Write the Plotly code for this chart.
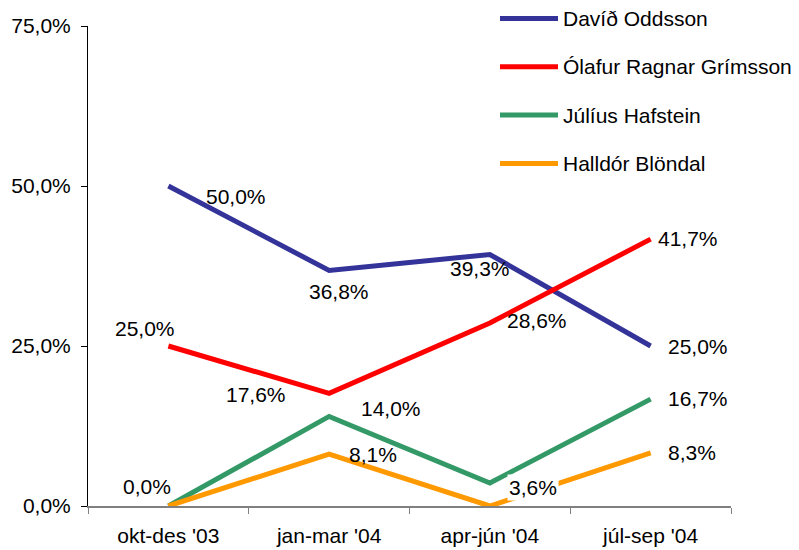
import plotly.graph_objects as go

# data
periods = ["okt-des '03", "jan-mar '04", "apr-jún '04", "júl-sep '04"]
names = ['Davíð Oddsson', 'Ólafur Ragnar Grímsson', 'Júlíus Hafstein', 'Halldór Blöndal']
david = [50.0, 36.8, 39.3, 25.0]
olafur = [25.0, 17.6, 28.6, 41.7]
julius = [0.0, 14.0, 3.6, 16.7]
halldor = [0.0, 8.1, 0.0, 8.3]
y_ticks = [0, 25, 50, 75]

colors = ['#333399', '#FF0000', '#339966', '#FF9900']
series = [david, olafur, julius, halldor]

# label offsets in px (dx, dy up); None = label hidden like in the original
label_offsets = [
    [(68, -10), (10, -21), (-10, -14), (47, 0)],
    [(-23, 18), (-73, -1), (47, 2), (37, 1)],
    [(-21, 20), (62, 8), (43, -5), (47, 1)],
    [None, (44, 0), None, (41, 0)],
]

FONT = 'Liberation Sans, Arial, sans-serif'
FS = 21
# page body has an 8px margin, so the figure is a bit smaller than the window
W, H = 791, 542
L, R, T, B = 80, 68, 18, 44
OFF = 8

fig = go.Figure()
for name, vals, col in zip(names, series, colors):
    fig.add_trace(go.Scatter(
        x=periods, y=vals, mode='lines', name=name,
        line=dict(color=col, width=5), showlegend=False
    ))

annotations = []
for vals, offs in zip(series, label_offsets):
    for xc, v, off in zip(periods, vals, offs):
        if off is None:
            continue
        annotations.append(dict(
            x=xc, y=v, xref='x', yref='y', text=f'{v:.1f}%'.replace('.', ','),
            showarrow=False, xshift=off[0], yshift=off[1],
            font=dict(size=FS, color='#000000'),
            bgcolor='#FFFFFF' if (v == 3.6) else 'rgba(0,0,0,0)',
        ))


# custom legend (long line swatches like Excel), positions in window px
def px_x(p):
    return (p - OFF - L) / (W - L - R)


def px_y(p):
    return (H - B - (p - OFF)) / (H - T - B)


shapes = []
for i, (name, col) in enumerate(zip(names, colors)):
    yy = 18.5 + i * 48.3
    shapes.append(dict(type='line', xref='paper', yref='paper',
                       x0=px_x(500), x1=px_x(558), y0=px_y(yy), y1=px_y(yy),
                       line=dict(color=col, width=5)))
    annotations.append(dict(x=px_x(561), y=px_y(yy), xref='paper', yref='paper',
                            text=name, showarrow=False, xanchor='left', yanchor='middle',
                            font=dict(size=FS, color='#000000')))

fig.update_layout(
    width=W, height=H,
    margin=dict(l=L, r=R, t=T, b=B),
    plot_bgcolor='#FFFFFF',
    paper_bgcolor='#FFFFFF',
    font=dict(family=FONT, size=FS, color='#000000'),
    showlegend=False,
    annotations=annotations,
    shapes=shapes,
)
fig.update_xaxes(
    showgrid=False, zeroline=False, automargin=False,
    showline=True, linecolor='#808080', linewidth=1.5,
    ticks='outside', tickson='boundaries', ticklen=6, tickcolor='#808080',
    range=[-0.5, 3.5], ticklabelstandoff=10,
)
fig.update_yaxes(
    range=[0, 75], tickvals=y_ticks, automargin=False,
    ticktext=[f'{t:.1f}%'.replace('.', ',') for t in y_ticks],
    showgrid=False, zeroline=False,
    showline=True, linecolor='#000000', linewidth=1,
    ticks='outside', ticklen=6, tickcolor='#000000', ticklabelstandoff=6,
)

fig.write_html("out.html")
